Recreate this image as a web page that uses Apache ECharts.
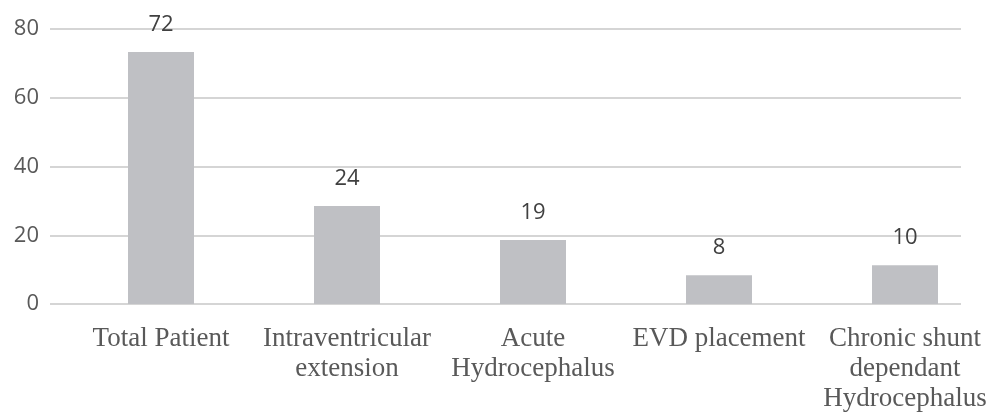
<!DOCTYPE html>
<html>
<head>
<meta charset="utf-8">
<script src="https://cdn.jsdelivr.net/npm/echarts@6/dist/echarts.min.js"></script>
<style>
  html, body { margin: 0; padding: 0; background: #fff; }
  #chart { width: 992px; height: 412px; }
</style>
</head>
<body>
<div id="chart"></div>
<script>
// categories along the x axis
const categories = [
  'Total Patient',
  'Intraventricular\nextension',
  'Acute\nHydrocephalus',
  'EVD placement',
  'Chronic shunt\ndependant\nHydrocephalus'
];
// bar heights as drawn in the picture
const barValues = [73.3, 28.5, 18.6, 8.4, 11.3];
// numbers printed above the bars
const barLabels = ['72', '24', '19', '8', '10'];
// y axis range
const yMin = 0;
const yMax = 80;
const yStep = 20;

const chart = echarts.init(document.getElementById('chart'));

const option = {
  animation: false,
  grid: [
    // grid for the gridlines and y labels
    { left: 50, right: 31, top: 29, bottom: 108, outerBoundsMode: 'none' },
    // grid for the bars and category labels
    { left: 68, right: -6, top: 29, bottom: 108, outerBoundsMode: 'none' }
  ],
  xAxis: [
    {
      gridIndex: 0,
      type: 'category',
      data: categories,
      show: false
    },
    {
      gridIndex: 1,
      type: 'category',
      data: categories,
      axisLine: { show: false },
      axisTick: { show: false },
      axisLabel: {
        interval: 0,
        margin: 20,
        fontFamily: 'Liberation Serif',
        fontSize: 27,
        lineHeight: 30,
        color: '#595959'
      }
    }
  ],
  yAxis: [
    {
      gridIndex: 0,
      type: 'value',
      min: yMin,
      max: yMax,
      interval: yStep,
      axisLine: { show: false },
      axisTick: { show: false },
      axisLabel: {
        margin: 11,
        fontFamily: 'Open Sans',
        fontSize: 22,
        color: '#595959'
      },
      splitLine: { lineStyle: { color: '#d5d5d5', width: 2 } }
    },
    {
      gridIndex: 1,
      type: 'value',
      min: yMin,
      max: yMax,
      show: false
    }
  ],
  series: [
    {
      type: 'bar',
      xAxisIndex: 1,
      yAxisIndex: 1,
      data: barValues,
      barWidth: 66,
      itemStyle: { color: '#bfc0c4' },
      label: {
        show: true,
        position: 'top',
        distance: 16,
        fontFamily: 'Open Sans',
        fontSize: 22,
        color: '#404040',
        formatter: p => barLabels[p.dataIndex]
      }
    }
  ]
};

chart.setOption(option);
</script>
</body>
</html>
